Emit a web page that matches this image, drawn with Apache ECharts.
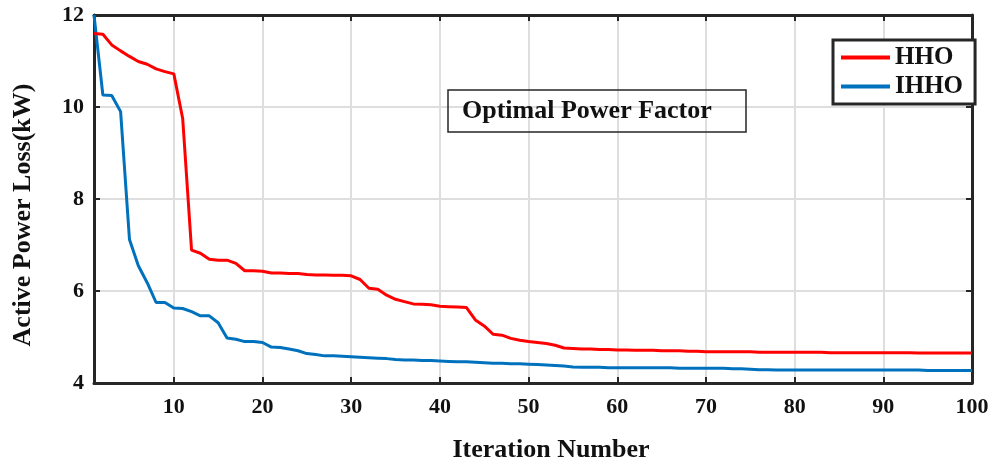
<!DOCTYPE html>
<html>
<head>
<meta charset="utf-8">
<script src="https://cdn.jsdelivr.net/npm/echarts@6/dist/echarts.min.js"></script>
<style>
  html, body { margin: 0; padding: 0; background: #fff; }
  #chart { width: 993px; height: 463px; }
</style>
</head>
<body>
<div id="chart"></div>
<script>
  // convergence curves, one value per iteration (1..100)
  var hho = [
    11.60, 11.58, 11.35, 11.22, 11.10, 10.99, 10.93, 10.83, 10.77, 10.72,
    9.75, 6.89, 6.82, 6.69, 6.67, 6.67, 6.60, 6.44, 6.44, 6.43,
    6.39, 6.39, 6.38, 6.38, 6.36, 6.35, 6.35, 6.34, 6.34, 6.33,
    6.25, 6.06, 6.04, 5.91, 5.82, 5.77, 5.72, 5.71, 5.70, 5.67,
    5.66, 5.65, 5.64, 5.37, 5.24, 5.06, 5.04, 4.97, 4.93, 4.90,
    4.88, 4.86, 4.82, 4.76, 4.75, 4.74, 4.74, 4.73, 4.73, 4.72,
    4.72, 4.71, 4.71, 4.71, 4.70, 4.70, 4.70, 4.69, 4.69, 4.68,
    4.68, 4.68, 4.68, 4.68, 4.68, 4.67, 4.67, 4.67, 4.67, 4.67,
    4.67, 4.67, 4.67, 4.66, 4.66, 4.66, 4.66, 4.66, 4.66, 4.66,
    4.66, 4.66, 4.66, 4.65, 4.65, 4.65, 4.65, 4.65, 4.65, 4.65
  ]
  var ihho = [
    12.00, 10.26, 10.25, 9.90, 7.12, 6.55, 6.18, 5.75, 5.75, 5.63,
    5.62, 5.55, 5.46, 5.46, 5.31, 4.98, 4.95, 4.90, 4.90, 4.88,
    4.78, 4.77, 4.74, 4.70, 4.64, 4.62, 4.59, 4.59, 4.58, 4.57,
    4.56, 4.55, 4.54, 4.53, 4.51, 4.50, 4.50, 4.49, 4.49, 4.48,
    4.47, 4.46, 4.46, 4.45, 4.44, 4.43, 4.43, 4.42, 4.42, 4.41,
    4.40, 4.39, 4.38, 4.37, 4.35, 4.34, 4.34, 4.34, 4.33, 4.33,
    4.33, 4.33, 4.33, 4.33, 4.33, 4.33, 4.32, 4.32, 4.32, 4.32,
    4.32, 4.32, 4.31, 4.31, 4.30, 4.29, 4.29, 4.28, 4.28, 4.28,
    4.28, 4.28, 4.28, 4.28, 4.28, 4.28, 4.28, 4.28, 4.28, 4.28,
    4.28, 4.28, 4.28, 4.28, 4.27, 4.27, 4.27, 4.27, 4.27, 4.27
  ]
  var xTicks = [10, 20, 30, 40, 50, 60, 70, 80, 90, 100]
  var yMin = 4, yMax = 12, yStep = 2

  var font = 'Liberation Serif'
  var dark = '#262626'

  function pairs(arr) {
    return arr.map(function (v, i) { return [i + 1, v] })
  }

  var chart = echarts.init(document.getElementById('chart'))
  chart.setOption({
    backgroundColor: '#fff',
    animation: false,
    title: {
      text: 'Optimal Power Factor',
      left: 448,
      top: 90,
      padding: [8, 34, 8, 14],
      borderColor: dark,
      borderWidth: 1.5,
      textStyle: { fontFamily: font, fontWeight: 'bold', fontSize: 26, color: '#111' }
    },
    legend: {
      orient: 'vertical',
      left: 833,
      top: 40,
      padding: [5, 12, 5, 8],
      itemGap: 4,
      itemWidth: 49,
      itemHeight: 4,
      icon: 'rect',
      borderColor: dark,
      borderWidth: 3,
      backgroundColor: '#fff',
      textStyle: { fontFamily: font, fontWeight: 'bold', fontSize: 25, color: '#111', lineHeight: 24 },
      data: ['HHO', 'IHHO']
    },
    grid: {
      left: 94,
      right: 21,
      top: 15,
      bottom: 80,
      outerBoundsMode: 'none'
    },
    xAxis: [
      {
        type: 'value',
        min: 1,
        max: 100,
        name: 'Iteration Number',
        nameLocation: 'middle',
        nameGap: 54,
        nameTextStyle: { fontFamily: font, fontWeight: 'bold', fontSize: 26, color: '#111', padding: [0, 0, 0, 36] },
        axisLine: { lineStyle: { color: dark, width: 3 } },
        axisTick: { inside: true, length: 6, customValues: xTicks, lineStyle: { color: dark, width: 2 } },
        axisLabel: { customValues: xTicks, margin: 13, fontFamily: font, fontWeight: 'bold', fontSize: 22, color: '#111' },
        splitLine: { show: true, lineStyle: { color: '#dedede', width: 2 } }
      },
      {
        type: 'value',
        position: 'top',
        min: 1,
        max: 100,
        axisLine: { lineStyle: { color: dark, width: 3 } },
        axisTick: { inside: true, length: 6, customValues: xTicks, lineStyle: { color: dark, width: 2 } },
        axisLabel: { show: false },
        splitLine: { show: false }
      }
    ],
    yAxis: [
      {
        type: 'value',
        min: yMin,
        max: yMax,
        interval: yStep,
        name: 'Active Power Loss(kW)',
        nameLocation: 'middle',
        nameGap: 58,
        nameTextStyle: { fontFamily: font, fontWeight: 'bold', fontSize: 26, color: '#111', padding: [0, 32, 0, 0] },
        axisLine: { show: true, lineStyle: { color: dark, width: 3 } },
        axisTick: { show: true, inside: true, length: 6, lineStyle: { color: dark, width: 2 } },
        axisLabel: { margin: 10, fontFamily: font, fontWeight: 'bold', fontSize: 22, color: '#111' },
        splitLine: { show: true, lineStyle: { color: '#dedede', width: 2 } }
      },
      {
        type: 'value',
        position: 'right',
        min: yMin,
        max: yMax,
        interval: yStep,
        axisLine: { show: true, lineStyle: { color: dark, width: 3 } },
        axisTick: { show: true, inside: true, length: 6, lineStyle: { color: dark, width: 2 } },
        axisLabel: { show: false },
        splitLine: { show: false }
      }
    ],
    series: [
      {
        name: 'HHO',
        type: 'line',
        data: pairs(hho),
        showSymbol: false,
        color: '#ff0000',
        lineStyle: { width: 3, color: '#ff0000' },
        z: 3
      },
      {
        name: 'IHHO',
        type: 'line',
        data: pairs(ihho),
        showSymbol: false,
        color: '#0072bd',
        lineStyle: { width: 3, color: '#0072bd' },
        z: 2
      }
    ]
  })
</script>
</body>
</html>
